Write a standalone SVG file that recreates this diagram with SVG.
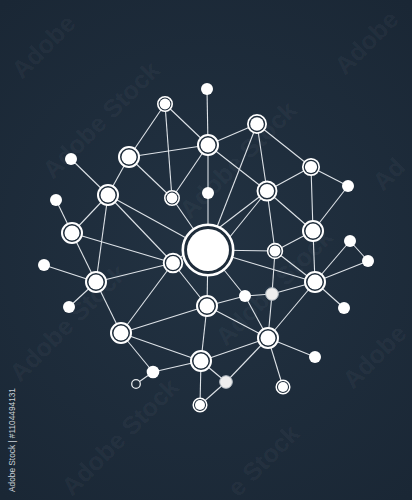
<svg xmlns="http://www.w3.org/2000/svg" width="412" height="500" viewBox="0 0 412 500">
<defs>
<radialGradient id="bg" cx="206" cy="250" r="320" gradientUnits="userSpaceOnUse">
<stop offset="0" stop-color="#223242"/>
<stop offset="1" stop-color="#1a2735"/>
</radialGradient>
</defs>
<style>
.e{stroke:#dde2e7;stroke-width:1.1;fill:none}
.rg{fill:#1e2c3a;stroke:#ffffff}
.c{fill:#ffffff}
.d{fill:#ffffff}
.g{fill:#eeeeee;stroke:#b9c0c7;stroke-width:1}
.h{fill:#1e2c3a;stroke:#e6e9ec;stroke-width:1.3}
.wm{font-family:"Liberation Sans",Arial,sans-serif;font-size:25px;font-weight:bold;fill:#ffffff;fill-opacity:0.05}
.id{font-family:"Liberation Sans",Arial,sans-serif;font-size:8.6px;fill:#c9d0d6}
</style>
<rect width="412" height="500" fill="url(#bg)"/>
<g id="watermarks">
<text class="wm" transform="translate(22,80) rotate(-45)">Adobe</text>
<text class="wm" transform="translate(345,76) rotate(-45)">Adobe</text>
<text class="wm" transform="translate(53,180) rotate(-45)">Adobe Stock</text>
<text class="wm" transform="translate(190,220) rotate(-45)">Adobe Stock</text>
<text class="wm" transform="translate(383,192) rotate(-45)">Ad</text>
<text class="wm" transform="translate(20,383) rotate(-45)">Adobe Stock</text>
<text class="wm" transform="translate(226,347) rotate(-45)">Adobe Stock</text>
<text class="wm" transform="translate(353,390) rotate(-45)">Adobe</text>
<text class="wm" transform="translate(72,497) rotate(-45)">Adobe Stock</text>
<text class="wm" transform="translate(238,498) rotate(-45)">e Stock</text>
</g>
<text class="id" transform="translate(15,492) rotate(-90)" textLength="104" lengthAdjust="spacingAndGlyphs">Adobe Stock | #1104494131</text>
<g id="connectors">
<line class="e" x1="165" y1="104" x2="129" y2="157"/>
<line class="e" x1="165" y1="104" x2="172" y2="198"/>
<line class="e" x1="165" y1="104" x2="208" y2="145"/>
<line class="e" x1="207" y1="89" x2="208" y2="145"/>
<line class="e" x1="129" y1="157" x2="208" y2="145"/>
<line class="e" x1="129" y1="157" x2="172" y2="198"/>
<line class="e" x1="129" y1="157" x2="108" y2="195"/>
<line class="e" x1="71" y1="159" x2="108" y2="195"/>
<line class="e" x1="208" y1="145" x2="257" y2="124"/>
<line class="e" x1="208" y1="145" x2="267" y2="191"/>
<line class="e" x1="208" y1="145" x2="208" y2="193"/>
<line class="e" x1="208" y1="145" x2="172" y2="198"/>
<line class="e" x1="257" y1="124" x2="311" y2="167"/>
<line class="e" x1="257" y1="124" x2="267" y2="191"/>
<line class="e" x1="257" y1="124" x2="208" y2="250"/>
<line class="e" x1="311" y1="167" x2="348" y2="186"/>
<line class="e" x1="311" y1="167" x2="313" y2="231"/>
<line class="e" x1="311" y1="167" x2="267" y2="191"/>
<line class="e" x1="348" y1="186" x2="313" y2="231"/>
<line class="e" x1="267" y1="191" x2="313" y2="231"/>
<line class="e" x1="267" y1="191" x2="173" y2="263"/>
<line class="e" x1="267" y1="191" x2="212" y2="259"/>
<line class="e" x1="267" y1="191" x2="275" y2="251"/>
<line class="e" x1="208" y1="193" x2="208" y2="250"/>
<line class="e" x1="172" y1="198" x2="208" y2="250"/>
<line class="e" x1="108" y1="195" x2="208" y2="250"/>
<line class="e" x1="108" y1="195" x2="173" y2="263"/>
<line class="e" x1="108" y1="195" x2="96" y2="282"/>
<line class="e" x1="108" y1="195" x2="72" y2="233"/>
<line class="e" x1="56" y1="200" x2="72" y2="233"/>
<line class="e" x1="72" y1="233" x2="173" y2="263"/>
<line class="e" x1="72" y1="233" x2="96" y2="282"/>
<line class="e" x1="44" y1="265" x2="96" y2="282"/>
<line class="e" x1="69" y1="307" x2="96" y2="282"/>
<line class="e" x1="96" y1="282" x2="173" y2="263"/>
<line class="e" x1="96" y1="282" x2="121" y2="333"/>
<line class="e" x1="173" y1="263" x2="121" y2="333"/>
<line class="e" x1="173" y1="263" x2="207" y2="306"/>
<line class="e" x1="208" y1="250" x2="275" y2="251"/>
<line class="e" x1="208" y1="250" x2="315" y2="282"/>
<line class="e" x1="208" y1="250" x2="245" y2="296"/>
<line class="e" x1="208" y1="250" x2="207" y2="306"/>
<line class="e" x1="275" y1="251" x2="313" y2="231"/>
<line class="e" x1="275" y1="251" x2="315" y2="282"/>
<line class="e" x1="275" y1="251" x2="272" y2="294"/>
<line class="e" x1="313" y1="231" x2="315" y2="282"/>
<line class="e" x1="350" y1="241" x2="315" y2="282"/>
<line class="e" x1="350" y1="241" x2="368" y2="261"/>
<line class="e" x1="368" y1="261" x2="315" y2="282"/>
<line class="e" x1="315" y1="282" x2="344" y2="308"/>
<line class="e" x1="315" y1="282" x2="272" y2="294"/>
<line class="e" x1="272" y1="294" x2="245" y2="296"/>
<line class="e" x1="245" y1="296" x2="207" y2="306"/>
<line class="e" x1="315" y1="282" x2="268" y2="338"/>
<line class="e" x1="245" y1="296" x2="268" y2="338"/>
<line class="e" x1="272" y1="294" x2="268" y2="338"/>
<line class="e" x1="207" y1="306" x2="268" y2="338"/>
<line class="e" x1="207" y1="306" x2="121" y2="333"/>
<line class="e" x1="207" y1="306" x2="201" y2="361"/>
<line class="e" x1="121" y1="333" x2="201" y2="361"/>
<line class="e" x1="121" y1="333" x2="153" y2="372"/>
<line class="e" x1="153" y1="372" x2="136" y2="384"/>
<line class="e" x1="153" y1="372" x2="201" y2="361"/>
<line class="e" x1="201" y1="361" x2="268" y2="338"/>
<line class="e" x1="201" y1="361" x2="226" y2="382"/>
<line class="e" x1="201" y1="361" x2="200" y2="405"/>
<line class="e" x1="226" y1="382" x2="200" y2="405"/>
<line class="e" x1="226" y1="382" x2="268" y2="338"/>
<line class="e" x1="268" y1="338" x2="283" y2="387"/>
<line class="e" x1="268" y1="338" x2="315" y2="357"/>
</g>
<g id="n1"><circle class="rg" cx="165" cy="104" r="7.2" stroke-width="1.6"/><circle class="c" cx="165" cy="104" r="5.4"/></g>
<g id="n2"><circle class="d" cx="207" cy="89" r="6"/></g>
<g id="n3"><circle class="rg" cx="257" cy="124" r="9.1" stroke-width="1.8"/><circle class="c" cx="257" cy="124" r="6.8"/></g>
<g id="n4"><circle class="rg" cx="208" cy="145" r="10" stroke-width="2"/><circle class="c" cx="208" cy="145" r="7.5"/></g>
<g id="n5"><circle class="rg" cx="129" cy="157" r="10" stroke-width="2"/><circle class="c" cx="129" cy="157" r="7.5"/></g>
<g id="n6"><circle class="d" cx="71" cy="159" r="6"/></g>
<g id="n7"><circle class="rg" cx="311" cy="167" r="8.2" stroke-width="1.7"/><circle class="c" cx="311" cy="167" r="6.1"/></g>
<g id="n8"><circle class="rg" cx="172" cy="198" r="7.2" stroke-width="1.6"/><circle class="c" cx="172" cy="198" r="5.4"/></g>
<g id="n9"><circle class="d" cx="208" cy="193" r="6"/></g>
<g id="n10"><circle class="rg" cx="267" cy="191" r="9.5" stroke-width="1.9"/><circle class="c" cx="267" cy="191" r="7.1"/></g>
<g id="n11"><circle class="rg" cx="108" cy="195" r="10" stroke-width="2"/><circle class="c" cx="108" cy="195" r="7.5"/></g>
<g id="n12"><circle class="d" cx="348" cy="186" r="6"/></g>
<g id="n13"><circle class="d" cx="56" cy="200" r="6"/></g>
<g id="n14"><circle class="rg" cx="313" cy="231" r="10" stroke-width="2"/><circle class="c" cx="313" cy="231" r="7.5"/></g>
<g id="n15"><circle class="rg" cx="72" cy="233" r="10" stroke-width="2"/><circle class="c" cx="72" cy="233" r="7.5"/></g>
<g id="n16"><circle class="rg" cx="208" cy="250" r="25.2" stroke-width="2.6"/><circle class="c" cx="208" cy="250" r="21"/></g>
<g id="n17"><circle class="rg" cx="275" cy="251" r="7.4" stroke-width="1.6"/><circle class="c" cx="275" cy="251" r="5.5"/></g>
<g id="n18"><circle class="d" cx="350" cy="241" r="6"/></g>
<g id="n19"><circle class="rg" cx="173" cy="263" r="9.3" stroke-width="1.9"/><circle class="c" cx="173" cy="263" r="7"/></g>
<g id="n20"><circle class="d" cx="44" cy="265" r="6"/></g>
<g id="n21"><circle class="d" cx="368" cy="261" r="6"/></g>
<g id="n22"><circle class="rg" cx="315" cy="282" r="10" stroke-width="2"/><circle class="c" cx="315" cy="282" r="7.5"/></g>
<g id="n23"><circle class="rg" cx="96" cy="282" r="10" stroke-width="2"/><circle class="c" cx="96" cy="282" r="7.5"/></g>
<g id="n24"><circle class="d" cx="245" cy="296" r="6"/></g>
<g id="n25"><circle class="g" cx="272" cy="294" r="6.3"/></g>
<g id="n26"><circle class="d" cx="69" cy="307" r="6"/></g>
<g id="n27"><circle class="rg" cx="207" cy="306" r="10" stroke-width="2"/><circle class="c" cx="207" cy="306" r="7.5"/></g>
<g id="n28"><circle class="d" cx="344" cy="308" r="6"/></g>
<g id="n29"><circle class="rg" cx="121" cy="333" r="10" stroke-width="2"/><circle class="c" cx="121" cy="333" r="7.5"/></g>
<g id="n30"><circle class="rg" cx="268" cy="338" r="10" stroke-width="2"/><circle class="c" cx="268" cy="338" r="7.5"/></g>
<g id="n31"><circle class="rg" cx="201" cy="361" r="10" stroke-width="2"/><circle class="c" cx="201" cy="361" r="7.5"/></g>
<g id="n32"><circle class="d" cx="315" cy="357" r="6"/></g>
<g id="n33"><circle class="d" cx="153" cy="372" r="6.3"/></g>
<g id="n34"><circle class="h" cx="136" cy="384" r="4.3"/></g>
<g id="n35"><circle class="g" cx="226" cy="382" r="6.3"/></g>
<g id="n36"><circle class="rg" cx="283" cy="387" r="6.8" stroke-width="1.5"/><circle class="c" cx="283" cy="387" r="5"/></g>
<g id="n37"><circle class="rg" cx="200" cy="405" r="6.8" stroke-width="1.5"/><circle class="c" cx="200" cy="405" r="5"/></g>
</svg>
